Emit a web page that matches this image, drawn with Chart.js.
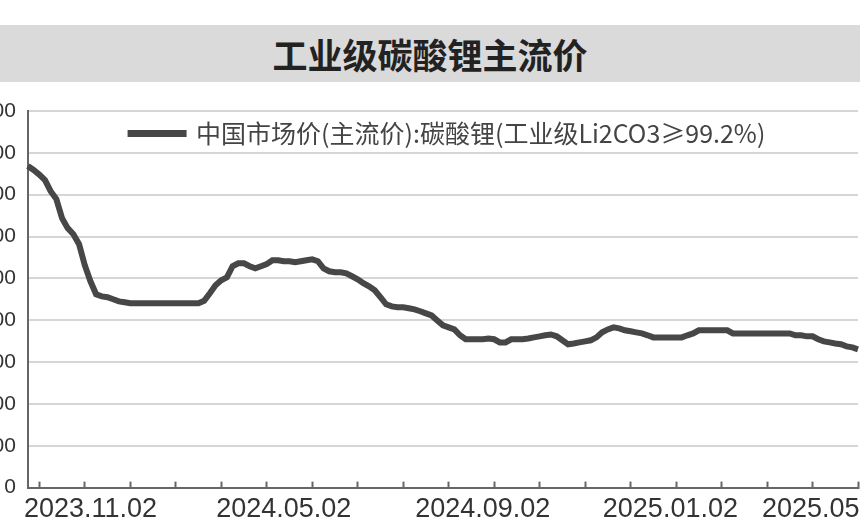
<!DOCTYPE html>
<html>
<head>
<meta charset="utf-8">
<script src="https://cdn.jsdelivr.net/npm/chart.js@4.4.1/dist/chart.umd.min.js"></script>
<style>
    html, body { margin: 0; padding: 0; background: #fff; overflow: hidden; width: 860px; height: 520px; }
    #title {
        position: absolute; left: 0; top: 25px; width: 860px; height: 57px;
        background: #dadada; color: #222; text-align: center;
        font: bold 35px "Noto Sans CJK SC", sans-serif; line-height: 57px;
    }
    #priceChart { position: absolute; left: -77px; top: 20px; }
</style>
</head>
<body>
<div id="title">工业级碳酸锂主流价</div>
<canvas id="priceChart" width="947" height="525"></canvas>
<script>
// 工业级碳酸锂主流价 (元/吨), 估计值
const seriesName = '中国市场价(主流价):碳酸锂(工业级Li2CO3≥99.2%)';
const prices = [
    153700, 151800, 149600, 147000, 141700, 137900, 128800, 124000, 121100, 116300,
    106300, 98600, 92400, 91400, 91000, 90000, 89000, 88600, 88100, 88100,
    88100, 88100, 88100, 88100, 88100, 88100, 88100, 88100, 88100, 88100,
    88100, 89300, 92900, 96700, 99100, 100500, 105800, 107200, 107200, 105800,
    104800, 105800, 106800, 108700, 108700, 108200, 108200, 107700, 108200, 108700,
    109100, 108200, 104800, 103400, 102900, 102900, 102400, 101000, 99600, 97700,
    96200, 94300, 91000, 87600, 86600, 86200, 86200, 85700, 85200, 84300,
    83300, 82300, 79900, 77600, 76600, 75600, 72800, 70900, 70900, 70900,
    70900, 71300, 70900, 69400, 69400, 70900, 70900, 70900, 71300, 71800,
    72300, 72800, 73200, 72300, 70400, 68500, 68900, 69400, 69900, 70400,
    71800, 74200, 75600, 76600, 76100, 75200, 74700, 74200, 73700, 72800,
    71800, 71800, 71800, 71800, 71800, 71800, 72800, 73700, 75200, 75200,
    75200, 75200, 75200, 75200, 73700, 73700, 73700, 73700, 73700, 73700,
    73700, 73700, 73700, 73700, 73700, 72800, 72800, 72300, 72300, 70900,
    69900, 69400, 68900, 68500, 67500, 67000, 66100
];
// x 轴日期标签及其所在的数据点
const dateLabels = ['2023.11.02', '2024.05.02', '2024.09.02', '2025.01.02', '2025.05.02'];
const dateIndex = [11, 45, 80, 113, 141];
const yTicks = [0, 20000, 40000, 60000, 80000, 100000, 120000, 140000, 160000, 180000];

const categories = prices.map(() => '');
dateIndex.forEach((idx, k) => { categories[idx] = dateLabels[k]; });

// 图例放进绘图区顶部（与原图一致）
const legendInPlot = {
    id: 'legendInPlot',
    afterLayout(chart) {
        const lg = chart.legend;
        const area = chart.chartArea;
        const h = lg.height;
        lg.left = area.left + 5;
        lg.right = area.right + 5;
        lg.width = area.right - area.left;
        lg.top = area.top;
        lg.bottom = area.top + h;
    }
};

new Chart(document.getElementById('priceChart'), {
    type: 'line',
    data: {
        labels: categories,
        datasets: [{
            label: seriesName,
            data: prices,
            borderColor: '#474747',
            backgroundColor: '#474747',
            borderWidth: 6,
            pointRadius: 0,
            tension: 0
        }]
    },
    options: {
        responsive: false,
        animation: false,
        layout: { padding: { left: 5, right: 5, top: 46, bottom: 7 } },
        plugins: {
            legend: {
                position: 'top',
                align: 'center',
                labels: {
                    boxWidth: 53,
                    boxHeight: 1,
                    color: '#444',
                    font: { family: '"Noto Sans CJK SC", sans-serif', size: 25 }
                }
            },
            tooltip: { enabled: false }
        },
        scales: {
            x: {
                type: 'category',
                offset: false,
                border: { color: '#666', width: 2 },
                grid: {
                    drawOnChartArea: false,
                    tickLength: -6,
                    tickWidth: 2,
                    tickColor: (ctx) => (ctx.index % 8 === 2 ? '#666' : 'rgba(0,0,0,0)')
                },
                ticks: {
                    autoSkip: false,
                    maxRotation: 0,
                    padding: 12,
                    color: '#333',
                    font: { family: '"Liberation Sans", sans-serif', size: 27 },
                    callback: (v, i) => categories[i]
                }
            },
            y: {
                min: 0,
                max: 180000,
                afterBuildTicks: (axis) => { axis.ticks = yTicks.map(v => ({ value: v })); },
                border: { color: '#666', width: 2 },
                grid: { color: '#d6d6d6', lineWidth: 2, drawTicks: false },
                ticks: {
                    padding: 12,
                    color: '#333',
                    font: { family: '"Liberation Sans", sans-serif', size: 21 }
                }
            }
        }
    },
    plugins: [legendInPlot]
});
</script>
</body>
</html>
